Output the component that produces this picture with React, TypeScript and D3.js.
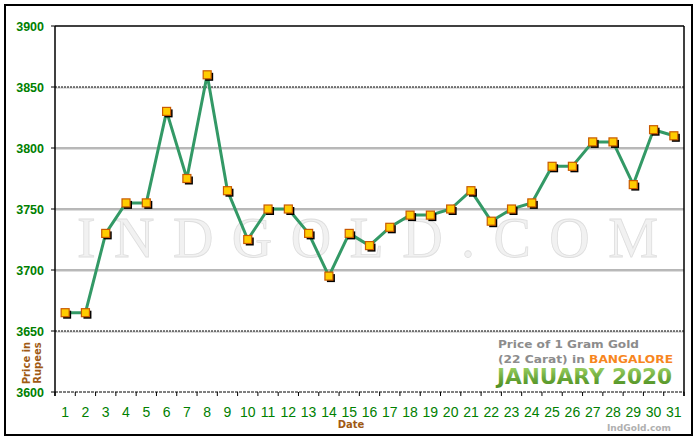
import React from 'react'
import * as d3 from 'd3'

// Gold price, 22 carat, Bangalore, January 2020
const days: number[] = d3.range(1, 32)
const prices: number[] = [
  3665, 3665, 3730, 3755, 3755, 3830, 3775, 3860, 3765, 3725,
  3750, 3750, 3730, 3695, 3730, 3720, 3735, 3745, 3745, 3750,
  3765, 3740, 3750, 3755, 3785, 3785, 3805, 3805, 3770, 3815, 3810
]
const yTicks: number[] = [3600, 3650, 3700, 3750, 3800, 3850, 3900]
const dottedLines: number[] = [3650, 3850]
const solidLines: number[] = [3700, 3750, 3800]

const W = 700
const H = 440
const margin = { top: 26, right: 16, bottom: 48, left: 55 }

export default function App() {
  const x = d3.scaleBand<number>()
    .domain(days)
    .range([margin.left, W - margin.right])
  const y = d3.scaleLinear()
    .domain([3600, 3900])
    .range([H - margin.bottom, margin.top])

  const cx = (d: number) => (x(d) as number) + x.bandwidth() / 2
  const points = days.map((d, i) => ({ day: d, value: prices[i] }))

  const line = d3.line<{ day: number; value: number }>()
    .x(p => cx(p.day))
    .y(p => y(p.value))

  const x0 = margin.left
  const x1 = W - margin.right
  const yTop = y(3900)
  const yBot = y(3600)
  const boundaries = d3.range(0, days.length + 1).map(i => x0 + i * x.step())

  return (
    <div style={{ position: 'fixed', left: 0, top: 0 }}>
      <svg width={W} height={H} style={{ display: 'block', background: '#fff' }}>
        <defs>
          <linearGradient id="monthGrad" x1="0" y1="0" x2="0" y2="1">
            <stop offset="0%" stopColor="#a6d86a" />
            <stop offset="55%" stopColor="#6aa83a" />
            <stop offset="100%" stopColor="#4a8a1e" />
          </linearGradient>
        </defs>

        {/* outer frame */}
        <rect x={5} y={5} width={687} height={430} fill="#fff" stroke="#000" strokeWidth={2} />

        {/* watermark */}
        <text
          x={77} y={257}
          textLength={581} lengthAdjust="spacing"
          fontFamily="'Liberation Serif', 'Times New Roman', serif"
          fontSize={56}
          fill="#f1f1f1" stroke="#dedede" strokeWidth={0.8}
        >INDGOLD.COM</text>

        {/* grid lines */}
        {solidLines.map(v => (
          <g key={v}>
            <line x1={x0} x2={x1} y1={y(v)} y2={y(v)} stroke="#6e6e6e" strokeWidth={1} />
            <line x1={x0} x2={x1} y1={y(v) + 1} y2={y(v) + 1} stroke="#bcbcbc" strokeWidth={1} />
          </g>
        ))}
        {dottedLines.map(v => (
          <g key={v}>
            <line x1={x0} x2={x1} y1={y(v) + 1} y2={y(v) + 1} stroke="#bdbdbd" strokeWidth={1.2} />
            <line x1={x0} x2={x1} y1={y(v)} y2={y(v)} stroke="#000" strokeWidth={1} strokeDasharray="2,1" />
          </g>
        ))}

        {/* plot frame */}
        <line x1={x0} x2={x1} y1={yTop} y2={yTop} stroke="#000" strokeWidth={1.5} />
        <line x1={x0} x2={x0} y1={yTop} y2={yBot + 4} stroke="#000" strokeWidth={1.5} />
        <line x1={x1} x2={x1} y1={yTop} y2={yBot + 4} stroke="#000" strokeWidth={1.5} />
        <line x1={x0} x2={x1} y1={yBot} y2={yBot} stroke="#000" strokeWidth={1} strokeDasharray="3,1" />

        {/* y ticks and labels */}
        {yTicks.map(v => (
          <g key={v}>
            <line x1={x0 - 4} x2={x0} y1={y(v)} y2={y(v)} stroke="#000" strokeWidth={1} />
            <text
              x={44} y={y(v) + 4.5} textAnchor="end"
              fontFamily="'Liberation Sans', Arial, sans-serif"
              fontSize={12.5} fontWeight="bold" fill="#008000"
            >{v}</text>
          </g>
        ))}

        {/* x ticks and labels */}
        {boundaries.map((b, i) => (
          <line key={i} x1={b} x2={b} y1={yBot} y2={yBot + 4} stroke="#000" strokeWidth={1} />
        ))}
        {days.map(d => (
          <text
            key={d} x={cx(d)} y={417} textAnchor="middle"
            fontFamily="'Liberation Sans Narrow', 'Arial Narrow', sans-serif"
            fontSize={14} fill="#008000"
          >{d}</text>
        ))}

        {/* axis titles */}
        <text
          x={351} y={428} textAnchor="middle"
          fontFamily="'DejaVu Sans', Verdana, sans-serif"
          fontSize={10} fontWeight="bold" fill="#a05a14"
        >Date</text>
        <text
          transform="translate(30,363) rotate(-90)" textAnchor="middle"
          fontFamily="'DejaVu Sans', Verdana, sans-serif"
          fontSize={10} fontWeight="bold" fill="#a05a14"
        >Price in</text>
        <text
          transform="translate(41,363) rotate(-90)" textAnchor="middle"
          fontFamily="'DejaVu Sans', Verdana, sans-serif"
          fontSize={10} fontWeight="bold" fill="#a05a14"
        >Rupees</text>

        {/* series */}
        <path d={line(points) ?? ''} fill="none" stroke="#339966" strokeWidth={3} strokeLinejoin="round" />
        {points.map(p => (
          <g key={p.day}>
            <rect x={cx(p.day) - 2} y={y(p.value) - 2} width={8} height={8} fill="#000" />
            <rect
              x={cx(p.day) - 4} y={y(p.value) - 4} width={8} height={8}
              fill="#ffcc00" stroke="#c85a00" strokeWidth={1.2}
            />
          </g>
        ))}

        {/* caption */}
        <text
          x={498} y={348} textLength={141} lengthAdjust="spacingAndGlyphs"
          fontFamily="'DejaVu Sans', Verdana, sans-serif"
          fontSize={10.5} fontWeight="bold" fill="#8c8c8c"
        >Price of 1 Gram Gold</text>
        <text
          x={498} y={363} textLength={175} lengthAdjust="spacingAndGlyphs"
          fontFamily="'DejaVu Sans', Verdana, sans-serif"
          fontSize={10.5} fontWeight="bold" fill="#8c8c8c"
        >(22 Carat) in <tspan fill="#f7861e">BANGALORE</tspan></text>
        <text
          x={497} y={384} textLength={175} lengthAdjust="spacingAndGlyphs"
          fontFamily="'DejaVu Sans', Verdana, sans-serif"
          fontSize={21} fontWeight="bold" fill="url(#monthGrad)"
        >JANUARY 2020</text>
        <text
          x={607} y={431} textLength={64} lengthAdjust="spacingAndGlyphs"
          fontFamily="'DejaVu Sans', Verdana, sans-serif"
          fontSize={8.5} fontWeight="bold" fill="#b0b0b0"
        >IndGold.com</text>
      </svg>
    </div>
  )
}
